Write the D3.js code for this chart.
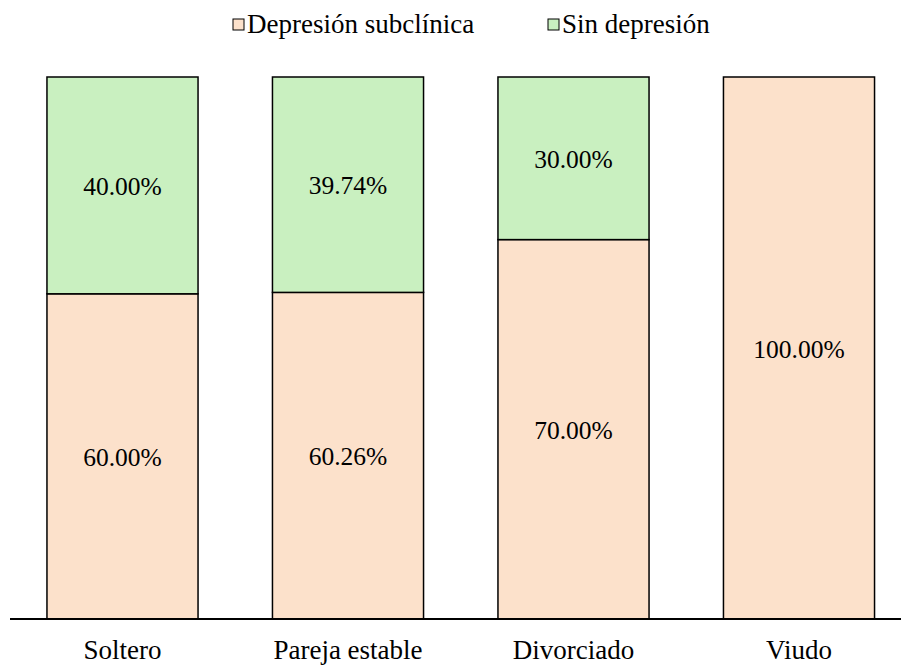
<!DOCTYPE html>
<html><head><meta charset="utf-8">
<script src="https://cdn.jsdelivr.net/npm/d3@7/dist/d3.min.js"></script>
</head><body style="margin:0">
<script>
const categories = ["Soltero", "Pareja estable", "Divorciado", "Viudo"];
const seriesNames = ["Depresión subclínica", "Sin depresión"];
const subclinica = [60.00, 60.26, 70.00, 100.00];
const sinDepresion = [40.00, 39.74, 30.00, 0];
const colors = ["#FCE1CB", "#C9F0C0"];

const W = 901, H = 669;
const svg = d3.select("body").append("svg").attr("width", W).attr("height", H)
  .style("display", "block")
  .attr("font-family", "Liberation Serif, Times New Roman, Times, serif");

const x = d3.scaleBand().domain(categories).range([9.75, 911.75]).paddingInner(0.33).paddingOuter(0.165);
const y = d3.scaleLinear().domain([0, 100]).range([619, 77]);

const rows = categories.map((c, i) => ({cat: c, vals: [subclinica[i], sinDepresion[i]]}));
const data = [];
rows.forEach(r => {
  let acc = 0;
  r.vals.forEach((v, k) => {
    if (v > 0) data.push({cat: r.cat, k, v, y0: acc, y1: acc + v});
    acc += v;
  });
});

// legend
const lx = [233, 548];
const lg = svg.append("g").selectAll("g").data(seriesNames).join("g")
  .attr("transform", (d, i) => `translate(${lx[i]},24.5)`);
lg.append("rect").attr("x", 0).attr("y", -5.5).attr("width", 11).attr("height", 11)
  .attr("fill", (d, i) => colors[i]).attr("stroke", "#000").attr("stroke-width", 1);
lg.append("text").attr("x", 14).attr("y", 8)
  .attr("font-size", 27).text(d => d);

svg.append("g").selectAll("rect").data(data).join("rect")
  .attr("x", d => x(d.cat))
  .attr("width", x.bandwidth())
  .attr("y", d => y(d.y1))
  .attr("height", d => y(d.y0) - y(d.y1))
  .attr("fill", d => colors[d.k])
  .attr("stroke", "#000").attr("stroke-width", 1.5);

svg.append("g").selectAll("text").data(data).join("text")
  .attr("x", d => x(d.cat) + x.bandwidth() / 2)
  .attr("y", d => (y(d.y0) + y(d.y1)) / 2 + 9.5)
  .attr("text-anchor", "middle")
  .attr("font-size", 25.5)
  .text(d => d.v.toFixed(2) + "%");

// x axis
const ax = svg.append("g").attr("transform", `translate(0,${y(0)})`)
  .call(d3.axisBottom(x).tickSize(0).tickPadding(40));
ax.attr("font-family", null).attr("font-size", 27);
ax.select(".domain").attr("d", `M10,0H901`).attr("stroke", "#000").attr("stroke-width", 2);
ax.selectAll("text").attr("dy", 0).attr("fill", "#000");
</script>
</body></html>
